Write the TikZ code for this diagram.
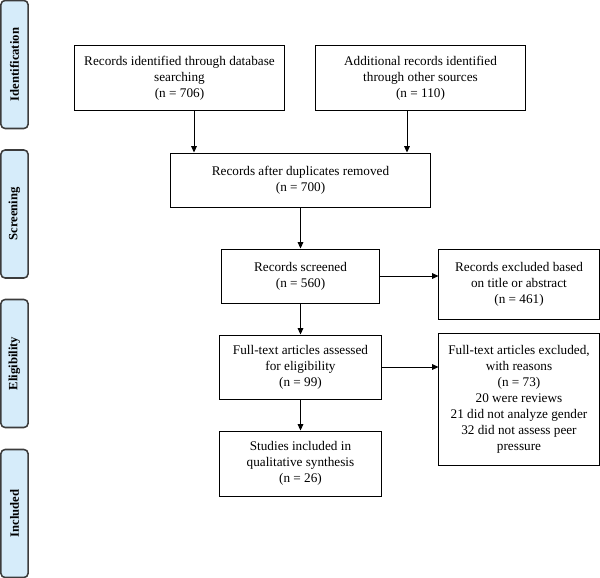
\documentclass[tikz,border=0pt]{standalone}
\usepackage{fontspec}
\setmainfont{Liberation Serif}
\usepackage{xcolor}
\usetikzlibrary{arrows.meta}

\definecolor{phasefill}{RGB}{214,236,250}
\definecolor{phaseline}{RGB}{60,60,60}

\tikzset{
    flowbox/.style={draw=black, line width=0.7pt, align=center, inner sep=2pt,
        font=\fontsize{9.4}{11.4}\selectfont},
    phasebar/.style={draw=phaseline, fill=phasefill, line width=1.1pt, rounded corners=3pt,
        rotate=90, minimum width=3.2cm, minimum height=0.68cm, inner sep=0pt,
        font=\fontsize{9}{11}\selectfont\bfseries},
    arr/.style={-{Triangle[length=4.5pt,width=4pt]}, line width=0.7pt}
}

\begin{document}
\begin{tikzpicture}[x=0.025cm,y=-0.025cm]
                \useasboundingbox (0,0) rectangle (600,578);
                % phases
                \node[phasebar] (identification) at (14.5,64.5) {Identification};
                \node[phasebar] (screening) at (14.5,214) {Screening};
                \node[phasebar] (eligibility) at (14.5,363.5) {Eligibility};
                \node[phasebar] (included) at (14.5,513.5) {Included};
                % boxes
                \node[flowbox, minimum width=5.225cm, minimum height=1.6cm] (database) at (179.5,78)
                    {Records identified through database\\searching\\(n = 706)};
                \node[flowbox, minimum width=5.225cm, minimum height=1.6cm] (other) at (420.5,78)
                    {Additional records identified\\through other sources\\(n = 110)};
                \node[flowbox, minimum width=6.475cm, minimum height=1.35cm] (duplicates) at (300.5,180)
                    {Records after duplicates removed\\(n = 700)};
                \node[flowbox, minimum width=3.925cm, minimum height=1.35cm] (screened) at (300.5,276)
                    {Records screened\\(n = 560)};
                \node[flowbox, minimum width=4cm, minimum height=1.725cm] (exscreened) at (519,284.5)
                    {Records excluded based\\on title or abstract\\(n = 461)};
                \node[flowbox, minimum width=4.025cm, minimum height=1.6cm] (fulltext) at (300.5,367)
                    {Full-text articles assessed\\for eligibility\\(n = 99)};
                \node[flowbox, minimum width=4cm, minimum height=3.275cm] (exfulltext) at (519,399.5)
                    {Full-text articles excluded,\\with reasons\\(n = 73)\\20 were reviews\\21 did not analyze gender\\32 did not assess peer\\pressure};
                \node[flowbox, minimum width=4.025cm, minimum height=1.625cm] (synthesis) at (300.5,463.5)
                    {Studies included in\\qualitative synthesis\\(n = 26)};
                % arrows
                \draw[arr] ([xshift=0.3625cm]database.south) -- ([xshift=0.3625cm]database.south |- duplicates.north);
                \draw[arr] ([xshift=-0.3375cm]other.south) -- ([xshift=-0.3375cm]other.south |- duplicates.north);
                \draw[arr] (duplicates) -- (screened);
                \draw[arr] (screened) -- (screened -| exscreened.west);
                \draw[arr] (screened) -- (fulltext);
                \draw[arr] (fulltext) -- (fulltext -| exfulltext.west);
                \draw[arr] (fulltext) -- (synthesis);
            \end{tikzpicture}
\end{document}
